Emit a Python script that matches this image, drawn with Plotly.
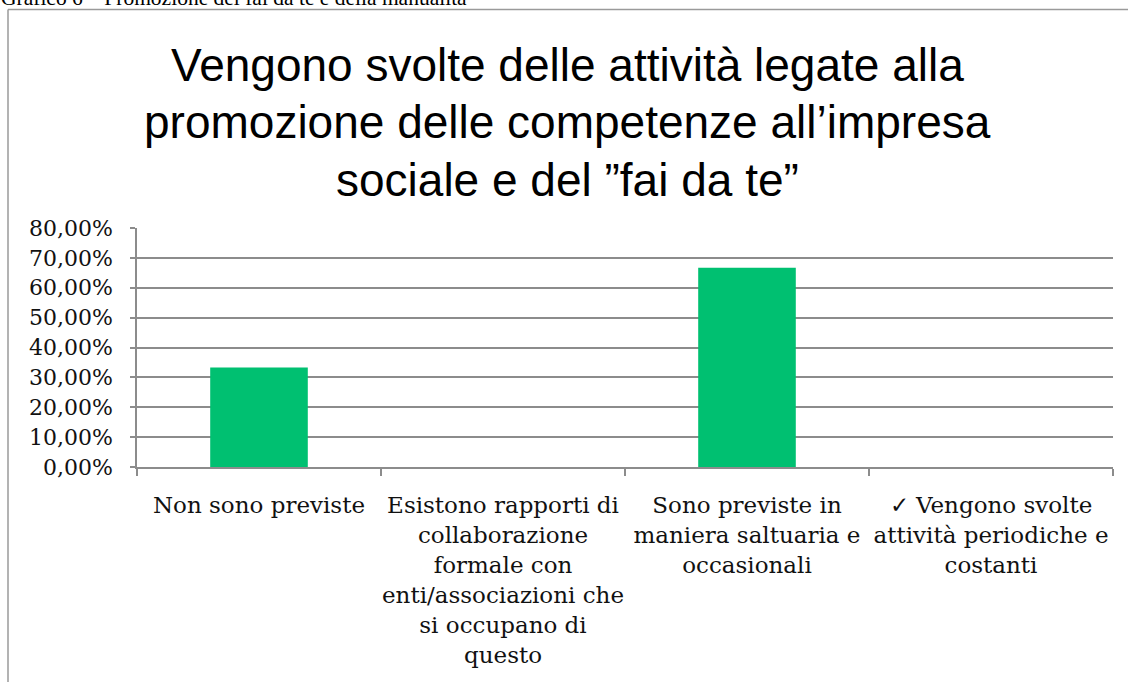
import plotly.graph_objects as go

# Survey answers and their shares
categories = [
    "Non sono previste",
    "Esistono rapporti di<br>collaborazione<br>formale con<br>enti/associazioni che<br>si occupano di<br>questo",
    "Sono previste in<br>maniera saltuaria e<br>occasionali",
    "✓ Vengono svolte<br>attività periodiche e<br>costanti",
]
shares = [0.3333, 0.0, 0.6667, 0.0]

y_ticks = [0, 0.1, 0.2, 0.3, 0.4, 0.5, 0.6, 0.7, 0.8]
y_tick_labels = ["0,00%", "10,00%", "20,00%", "30,00%", "40,00%",
                 "50,00%", "60,00%", "70,00%", "80,00%"]

title_lines = [
    "Vengono svolte delle attività legate alla",
    "promozione delle competenze all’impresa",
    "sociale e del ”fai da te”",
]
caption = "Grafico 6 – Promozione del fai da te e della manualità"

W, H = 1128, 682
L, R, T, B = 137, 15, 228, 215
plot_w = W - L - R
plot_h = H - T - B


def px_x(x):
    return (x - L) / plot_w


def px_y(y):
    return (H - B - y) / plot_h


GRID = "#8c8c8c"
SERIF = "DejaVu Serif"

fig = go.Figure(
    go.Bar(
        x=categories,
        y=shares,
        width=0.4,
        marker=dict(color="#00c071", line=dict(width=0)),
        hoverinfo="skip",
    )
)

fig.update_layout(
    width=W,
    height=H,
    margin=dict(l=L, r=R, t=T, b=B, autoexpand=False),
    paper_bgcolor="white",
    plot_bgcolor="white",
    showlegend=False,
    bargap=0.6,
)

fig.update_xaxes(
    showline=True,
    linecolor=GRID,
    linewidth=1.5,
    ticks="outside",
    tickson="boundaries",
    ticklen=7,
    tickcolor=GRID,
    tickwidth=1.5,
    showgrid=False,
    tickangle=0,
    ticklabelstandoff=17,
    tickfont=dict(family=SERIF, size=23, color="#111111"),
    fixedrange=True,
)

fig.update_yaxes(
    range=[0, 0.8],
    tickvals=y_ticks,
    ticktext=y_tick_labels,
    showline=True,
    linecolor=GRID,
    linewidth=1.5,
    ticks="outside",
    ticklen=5,
    tickcolor=GRID,
    tickwidth=1.5,
    showgrid=True,
    gridcolor=GRID,
    gridwidth=1.5,
    zeroline=False,
    ticklabelstandoff=13,
    tickfont=dict(family=SERIF, size=22, color="#111111"),
    fixedrange=True,
)

# Title, one annotation per line
title_centers = [65, 122, 180]
for line, cy in zip(title_lines, title_centers):
    fig.add_annotation(
        text=line,
        xref="paper", yref="paper",
        x=px_x(567), y=px_y(cy),
        xanchor="center", yanchor="middle",
        showarrow=False,
        font=dict(family="Liberation Sans", size=46, color="#000000"),
    )

# Document caption above the chart frame
fig.add_annotation(
    text=caption,
    xref="paper", yref="paper",
    x=px_x(-1), y=px_y(-2),
    xanchor="left", yanchor="middle",
    showarrow=False,
    font=dict(family="Liberation Serif", size=21.5, color="#000000"),
)

# Chart frame (top and left edges)
FRAME = "#9a9a9a"
fig.add_shape(type="line", xref="paper", yref="paper",
              x0=px_x(8), x1=px_x(W + 20), y0=px_y(9.5), y1=px_y(9.5),
              line=dict(color=FRAME, width=1.5))
fig.add_shape(type="line", xref="paper", yref="paper",
              x0=px_x(8), x1=px_x(8), y0=px_y(9.5), y1=px_y(H + 20),
              line=dict(color=FRAME, width=1.5))

fig.write_html("out.html")
